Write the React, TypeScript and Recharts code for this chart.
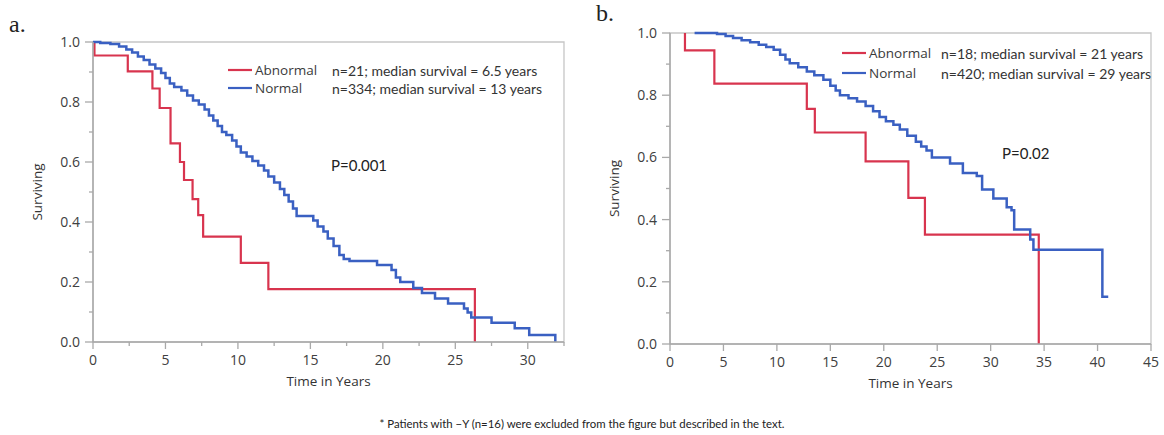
import { Label, Legend, Line, LineChart, ReferenceArea, XAxis, YAxis } from "recharts";

// ---- data ----
const seriesNames = ["Abnormal", "Normal"];
const statsA = ["n=21; median survival = 6.5 years", "n=334; median survival = 13 years"];
const statsB = ["n=18; median survival = 21 years", "n=420; median survival = 29 years"];
const pValueA = "P=0.001";
const pValueB = "P=0.02";

const yTicks = [0, 0.1, 0.2, 0.3, 0.4, 0.5, 0.6, 0.7, 0.8, 0.9, 1.0];
const xTicksA = [0, 2.5, 5, 7.5, 10, 12.5, 15, 17.5, 20, 22.5, 25, 27.5, 30, 32.5];
const xTicksB = [0, 5, 10, 15, 20, 25, 30, 35, 40, 45];

// panel a: time in years (t), proportion surviving (s)
const abnormalA = [
  { t: 0, s: 1 }, { t: 0.1, s: 0.955 }, { t: 2.4, s: 0.902 }, { t: 4.1, s: 0.845 },
  { t: 4.6, s: 0.78 }, { t: 5.35, s: 0.662 }, { t: 6.0, s: 0.6 }, { t: 6.28, s: 0.54 },
  { t: 6.87, s: 0.476 }, { t: 7.26, s: 0.423 }, { t: 7.6, s: 0.351 }, { t: 10.2, s: 0.264 },
  { t: 12.1, s: 0.176 }, { t: 26.35, s: 0 },
];

const normalA = [
  { t: 0, s: 1 }, { t: 0.5, s: 0.997 }, { t: 1.2, s: 0.993 }, { t: 1.8, s: 0.985 },
  { t: 2.3, s: 0.975 }, { t: 2.7, s: 0.965 }, { t: 3.1, s: 0.952 }, { t: 3.5, s: 0.94 },
  { t: 3.9, s: 0.925 }, { t: 4.3, s: 0.912 }, { t: 4.7, s: 0.897 }, { t: 5.0, s: 0.88 },
  { t: 5.3, s: 0.862 }, { t: 5.6, s: 0.85 }, { t: 6.1, s: 0.838 }, { t: 6.5, s: 0.822 },
  { t: 6.9, s: 0.805 }, { t: 7.3, s: 0.792 }, { t: 7.7, s: 0.775 }, { t: 8.0, s: 0.755 },
  { t: 8.3, s: 0.738 }, { t: 8.6, s: 0.72 }, { t: 8.9, s: 0.7 }, { t: 9.2, s: 0.69 },
  { t: 9.6, s: 0.672 }, { t: 9.9, s: 0.652 }, { t: 10.2, s: 0.632 }, { t: 10.6, s: 0.618 },
  { t: 11.0, s: 0.603 }, { t: 11.4, s: 0.588 }, { t: 11.8, s: 0.572 }, { t: 12.1, s: 0.552 },
  { t: 12.5, s: 0.532 }, { t: 12.9, s: 0.51 }, { t: 13.2, s: 0.49 }, { t: 13.5, s: 0.468 },
  { t: 13.8, s: 0.445 }, { t: 14.05, s: 0.42 }, { t: 15.2, s: 0.405 }, { t: 15.5, s: 0.385 },
  { t: 15.9, s: 0.368 }, { t: 16.2, s: 0.345 }, { t: 16.6, s: 0.32 }, { t: 17.0, s: 0.29 },
  { t: 17.3, s: 0.277 }, { t: 17.7, s: 0.27 }, { t: 19.6, s: 0.257 }, { t: 20.6, s: 0.24 },
  { t: 20.9, s: 0.215 }, { t: 21.2, s: 0.2 }, { t: 22.1, s: 0.18 }, { t: 22.7, s: 0.163 },
  { t: 23.6, s: 0.145 }, { t: 24.5, s: 0.128 }, { t: 25.6, s: 0.112 }, { t: 25.85, s: 0.098 },
  { t: 26.1, s: 0.082 }, { t: 27.5, s: 0.064 }, { t: 29.1, s: 0.046 }, { t: 30.1, s: 0.023 },
  { t: 31.9, s: 0 },
];

// panel b
const abnormalB = [
  { t: 1.4, s: 1 }, { t: 1.4, s: 0.944 }, { t: 4.15, s: 0.837 }, { t: 12.8, s: 0.756 },
  { t: 13.55, s: 0.68 }, { t: 18.3, s: 0.587 }, { t: 22.3, s: 0.47 }, { t: 23.85, s: 0.352 },
  { t: 34.5, s: 0 },
];

const normalB = [
  { t: 2.3, s: 1 }, { t: 4.4, s: 0.997 }, { t: 5.2, s: 0.99 }, { t: 5.9, s: 0.984 },
  { t: 6.7, s: 0.977 }, { t: 7.5, s: 0.97 }, { t: 8.3, s: 0.962 }, { t: 9.0, s: 0.955 },
  { t: 9.7, s: 0.946 }, { t: 10.3, s: 0.93 }, { t: 10.8, s: 0.915 }, { t: 11.2, s: 0.903 },
  { t: 12.0, s: 0.89 }, { t: 12.8, s: 0.876 }, { t: 13.5, s: 0.864 }, { t: 14.35, s: 0.85 },
  { t: 15.0, s: 0.83 }, { t: 15.5, s: 0.815 }, { t: 15.9, s: 0.8 }, { t: 16.7, s: 0.79 },
  { t: 17.5, s: 0.78 }, { t: 18.3, s: 0.765 }, { t: 19.0, s: 0.748 }, { t: 19.6, s: 0.73 },
  { t: 20.2, s: 0.716 }, { t: 20.9, s: 0.705 }, { t: 21.5, s: 0.69 }, { t: 22.2, s: 0.67 },
  { t: 23.0, s: 0.65 }, { t: 23.5, s: 0.635 }, { t: 24.0, s: 0.622 }, { t: 24.5, s: 0.6 },
  { t: 26.2, s: 0.58 }, { t: 27.4, s: 0.55 }, { t: 28.7, s: 0.54 }, { t: 29.2, s: 0.497 },
  { t: 30.25, s: 0.468 }, { t: 31.5, s: 0.44 }, { t: 31.95, s: 0.43 }, { t: 32.2, s: 0.368 },
  { t: 33.7, s: 0.336 }, { t: 34.0, s: 0.303 }, { t: 40.45, s: 0.152 }, { t: 41.0, s: 0.152 },
];

// ---- styling ----
const RED = "#d8344e";
const BLUE = "#3a60c2";
const AXIS = "#a9a9a9";
const FRAME = "#c6c6c6";
const TICK_TEXT = "#404040";
const UI_FONT = "'Open Sans', 'Noto Sans', sans-serif";
const NOTE_FONT = "Lato, 'Open Sans', sans-serif";
const colors = [RED, BLUE];

function YTick(props: any) {
  const { x, y, payload } = props;
  const v = payload.value;
  const major = Math.round(v * 10) % 2 === 0;
  return (
    <g>
      <line x1={x} x2={x - (major ? 8 : 4)} y1={y} y2={y} stroke={AXIS} strokeWidth={1.3} />
      {major && (
        <text x={x - 13} y={y} dy={5} textAnchor="end" fill={TICK_TEXT} fontSize={14} fontFamily={UI_FONT}>
          {v.toFixed(1)}
        </text>
      )}
    </g>
  );
}

function XTick(props: any) {
  const { x, y, payload } = props;
  const v = payload.value;
  const major = v % 5 === 0;
  return (
    <g>
      <line x1={x} x2={x} y1={y} y2={y + (major ? 7 : 4)} stroke={AXIS} strokeWidth={1.3} />
      {major && (
        <text x={x} y={y + 23} textAnchor="middle" fill={TICK_TEXT} fontSize={14} fontFamily={UI_FONT}>
          {v}
        </text>
      )}
    </g>
  );
}

function KmLegend({ stats, rowH, statX }: { stats: string[]; rowH: number; statX: number }) {
  return (
    <div style={{ position: "relative" }}>
      {seriesNames.map((name, i) => (
        <div key={name} style={{ position: "relative", height: rowH, whiteSpace: "nowrap" }}>
          <svg width={24} height={rowH} style={{ position: "absolute", left: 0, top: 0 }}>
            <line x1={0} x2={24} y1={rowH / 2} y2={rowH / 2} stroke={colors[i]} strokeWidth={2.2} />
          </svg>
          <span
            style={{
              position: "absolute",
              left: 27,
              top: 0,
              lineHeight: `${rowH}px`,
              fontSize: 13.5,
              fontFamily: UI_FONT,
              color: "#3a3a3a",
            }}
          >
            {name}
          </span>
          <span
            style={{
              position: "absolute",
              left: statX,
              top: 1,
              lineHeight: `${rowH}px`,
              fontSize: 14,
              fontFamily: NOTE_FONT,
              color: "#333",
            }}
          >
            {stats[i]}
          </span>
        </div>
      ))}
    </div>
  );
}

function KmPanel(props: {
  width: number;
  height: number;
  margin: { top: number; right: number; bottom: number; left: number };
  yWidth: number;
  xHeight: number;
  xMax: number;
  xTicks: number[];
  abnormal: { t: number; s: number }[];
  normal: { t: number; s: number }[];
  stats: string[];
  legendLeft: number;
  legendTop: number;
  rowH: number;
  statX: number;
  yLabelOffset: number;
  xLabelOffset: number;
}) {
  return (
    <LineChart width={props.width} height={props.height} margin={props.margin}>
      <ReferenceArea
        x1={0}
        x2={props.xMax}
        y1={0}
        y2={1}
        fill="none"
        stroke={FRAME}
        strokeWidth={1.3}
        ifOverflow="visible"
      />
      <XAxis
        dataKey="t"
        type="number"
        domain={[0, props.xMax]}
        ticks={props.xTicks}
        interval={0}
        tickSize={0}
        tickMargin={0}
        tickLine={false}
        axisLine={{ stroke: AXIS, strokeWidth: 1.5 }}
        tick={(p: any) => <XTick {...p} />}
        height={props.xHeight}
      >
        <Label
          value="Time in Years"
          position="insideBottom"
          offset={props.xLabelOffset}
          style={{ fontSize: 13.5, fontFamily: UI_FONT, fill: "#333" }}
        />
      </XAxis>
      <YAxis
        type="number"
        domain={[0, 1]}
        ticks={yTicks}
        interval={0}
        tickSize={0}
        tickMargin={0}
        tickLine={false}
        axisLine={{ stroke: AXIS, strokeWidth: 1.5 }}
        tick={(p: any) => <YTick {...p} />}
        width={props.yWidth}
      >
        <Label
          value="Surviving"
          angle={-90}
          position="insideLeft"
          offset={props.yLabelOffset}
          style={{ fontSize: 13.5, fontFamily: UI_FONT, fill: "#333", textAnchor: "middle" }}
        />
      </YAxis>
      <Line
        data={props.abnormal}
        dataKey="s"
        name={seriesNames[0]}
        type="stepAfter"
        stroke={RED}
        strokeWidth={2.2}
        dot={false}
        activeDot={false}
        isAnimationActive={false}
      />
      <Line
        data={props.normal}
        dataKey="s"
        name={seriesNames[1]}
        type="stepAfter"
        stroke={BLUE}
        strokeWidth={2.5}
        dot={false}
        activeDot={false}
        isAnimationActive={false}
      />
      <Legend
        layout="horizontal"
        align="center"
        verticalAlign="middle"
        content={() => <KmLegend stats={props.stats} rowH={props.rowH} statX={props.statX} />}
        wrapperStyle={{ position: "absolute", left: props.legendLeft, top: props.legendTop, width: 340, height: 40 }}
      />
    </LineChart>
  );
}

const noteStyle = {
  position: "absolute" as const,
  fontFamily: NOTE_FONT,
  color: "#222",
  whiteSpace: "nowrap" as const,
};

export default function App() {
  return (
    <div style={{ position: "relative", width: 1164, height: 435, background: "#fff", overflow: "hidden" }}>
      <style>{"body{margin:0}"}</style>
      <div style={{ position: "absolute", left: 0, top: 0 }}>
        <KmPanel
          width={580}
          height={400}
          margin={{ top: 42, right: 16, bottom: 0, left: 0 }}
          yWidth={93}
          xHeight={58}
          xMax={32.5}
          xTicks={xTicksA}
          abnormal={abnormalA}
          normal={normalA}
          stats={statsA}
          legendLeft={228}
          legendTop={61}
          rowH={18}
          statX={104}
          yLabelOffset={37}
          xLabelOffset={14}
        />
      </div>
      <div style={{ position: "absolute", left: 580, top: 0 }}>
        <KmPanel
          width={584}
          height={400}
          margin={{ top: 33, right: 13, bottom: 0, left: 0 }}
          yWidth={90}
          xHeight={56}
          xMax={45}
          xTicks={xTicksB}
          abnormal={abnormalB}
          normal={normalB}
          stats={statsB}
          legendLeft={262}
          legendTop={43}
          rowH={20}
          statX={99}
          yLabelOffset={34}
          xLabelOffset={12}
        />
      </div>
      <div style={{ ...noteStyle, left: 9, top: 11, fontSize: 24, fontFamily: "'Liberation Serif', 'Times New Roman', serif" }}>
        a.
      </div>
      <div style={{ ...noteStyle, left: 596, top: 0, fontSize: 24, fontFamily: "'Liberation Serif', 'Times New Roman', serif" }}>
        b.
      </div>
      <div style={{ ...noteStyle, left: 331, top: 155, fontSize: 15, lineHeight: "20px" }}>{pValueA}</div>
      <div style={{ ...noteStyle, left: 1002, top: 143, fontSize: 15, lineHeight: "20px" }}>{pValueB}</div>
      <div
        style={{
          ...noteStyle,
          left: 0,
          width: 1164,
          textAlign: "center",
          top: 416,
          fontSize: 11.4,
          lineHeight: "15px",
        }}
      >
        * Patients with −Y (n=16) were excluded from the figure but described in the text.
      </div>
    </div>
  );
}
